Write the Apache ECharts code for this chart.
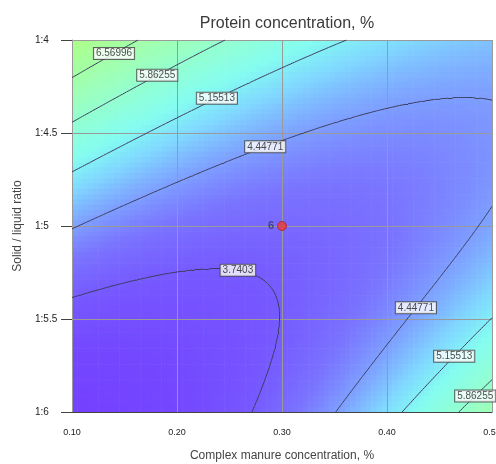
<!DOCTYPE html>
<html>
<head>
<meta charset="utf-8">
<script src="https://cdn.jsdelivr.net/npm/echarts@6/dist/echarts.min.js"></script>
<style>
html, body { margin: 0; padding: 0; background: #fff; }
#chart { width: 496px; height: 464px; }
</style>
</head>
<body>
<div id="chart"></div>
<script>
// response surface (coded factors: u=(x-0.3)/0.2, v=ratio-5)
// terms: 1, u, v, uv, u^2, v^2, uv^2, u^2v
var surfaceCoefs = [3.93, 0.02, -0.76, 1.47, 0.57, 0.80, 0.21, 0.08];
var contourLevels = ['3.7403', '4.44771', '5.15513', '5.86255', '6.56996'];
// where each contour label sits: [x, ratio, level]
var contourLabels = [
    [0.138, 4.06, '6.56996'],
    [0.180, 4.18, '5.86255'],
    [0.237, 4.30, '5.15513'],
    [0.282, 4.56, '4.44771'],
    [0.258, 5.22, '3.7403'],
    [0.418, 5.41, '4.44771'],
    [0.455, 5.66, '5.15513'],
    [0.475, 5.87, '5.86255']
];
var xTicks = ['0.10', '0.20', '0.30', '0.40', '0.50'];
var yTicks = ['1:4', '1:4.5', '1:5', '1:5.5', '1:6'];
var designPoints = [[0.30, 5, '6']];

var xMin = 0.1, xMax = 0.5, rMin = 4, rMax = 6;

function surf(x, r) {
    var u = (x - 0.3) / 0.2, v = r - 5;
    var t = [1, u, v, u * v, u * u, v * v, u * v * v, u * u * v];
    var s = 0;
    for (var k = 0; k < t.length; k++) s += surfaceCoefs[k] * t[k];
    return s;
}

// colour cells
var cells = [];
var nx = 80, ny = 70;
for (var i = 0; i < nx; i++) {
    for (var j = 0; j < ny; j++) {
        var x0 = xMin + (xMax - xMin) * i / nx, x1 = xMin + (xMax - xMin) * (i + 1) / nx;
        var r0 = rMin + (rMax - rMin) * j / ny, r1 = rMin + (rMax - rMin) * (j + 1) / ny;
        cells.push([x0, r0, x1, r1, surf((x0 + x1) / 2, (r0 + r1) / 2)]);
    }
}

// contour lines, marching squares
var N = 200;
var grid = [];
for (var i = 0; i <= N; i++) {
    grid.push([]);
    for (var j = 0; j <= N; j++) {
        grid[i].push(surf(xMin + (xMax - xMin) * i / N, rMin + (rMax - rMin) * j / N));
    }
}
function px(i) { return xMin + (xMax - xMin) * i / N; }
function pr(j) { return rMin + (rMax - rMin) * j / N; }

var segs = [];
var segPts = {};
contourLevels.forEach(function (lvTxt) {
    var L = parseFloat(lvTxt);
    segPts[lvTxt] = [];
    for (var i = 0; i < N; i++) {
        for (var j = 0; j < N; j++) {
            var c = [[i, j], [i + 1, j], [i + 1, j + 1], [i, j + 1]];
            var pts = [];
            for (var e = 0; e < 4; e++) {
                var a = c[e], b = c[(e + 1) % 4];
                var za = grid[a[0]][a[1]], zb = grid[b[0]][b[1]];
                if ((za - L) * (zb - L) < 0) {
                    var t = (L - za) / (zb - za);
                    pts.push([px(a[0] + (b[0] - a[0]) * t), pr(a[1] + (b[1] - a[1]) * t)]);
                }
            }
            for (var k = 0; k + 1 < pts.length; k += 2) {
                segs.push({coords: [pts[k], pts[k + 1]]});
                segPts[lvTxt].push(pts[k]);
            }
        }
    }
});

// snap labels onto their lines
var labelData = contourLabels.map(function (h) {
    var best = null, bd = 1e9;
    segPts[h[2]].forEach(function (p) {
        var d = Math.pow((p[0] - h[0]) / 0.4, 2) + Math.pow((p[1] - h[1]) / 2, 2);
        if (d < bd) { bd = d; best = p; }
    });
    return {value: [best[0], best[1]], name: h[2]};
});

var myChart = echarts.init(document.getElementById('chart'));

myChart.setOption({
    animation: false,
    title: {
        text: 'Protein concentration, %',
        left: 282,
        top: 11,
        textAlign: 'center',
        textStyle: {fontSize: 16, fontWeight: 'normal', color: '#3a3a3a', fontFamily: 'Liberation Sans'}
    },
    grid: {left: 72, right: 4, top: 40, bottom: 52, outerBoundsMode: 'none', containLabel: false},
    visualMap: {
        show: false,
        type: 'continuous',
        seriesIndex: 0,
        dimension: 4,
        min: 2.9,
        max: 7.3,
        inRange: {color: ['#7440ff', '#7448ff', '#7658ff', '#7a74ff', '#7ea4ff', '#80d8ff',
                          '#84fcf0', '#90ffd8', '#9affc0', '#a2ffaa', '#a8ff96', '#b0ff84']}
    },
    xAxis: {
        type: 'value',
        z: 2,
        min: xMin,
        max: xMax,
        interval: 0.1,
        name: 'Complex manure concentration, %',
        nameLocation: 'middle',
        nameGap: 38,
        nameTextStyle: {fontSize: 12, color: '#444', fontFamily: 'Liberation Sans'},
        axisLine: {show: true, lineStyle: {color: '#444'}},
        axisTick: {show: false},
        axisLabel: {
            fontSize: 9, color: '#222', margin: 16, fontFamily: 'Liberation Sans',
            formatter: function (v) { return xTicks[Math.round((v - xMin) / 0.1)]; }
        },
        splitLine: {show: true, lineStyle: {color: '#9a9a9a', width: 1}}
    },
    yAxis: {
        type: 'value',
        z: 2,
        inverse: true,
        min: rMin,
        max: rMax,
        interval: 0.5,
        name: 'Solid / liquid ratio',
        nameLocation: 'middle',
        nameGap: 46,
        nameTextStyle: {fontSize: 12, color: '#444', fontFamily: 'Liberation Sans'},
        axisLine: {show: true, lineStyle: {color: '#9a9a9a'}},
        axisTick: {show: true, length: 11, lineStyle: {color: '#444'}},
        axisLabel: {
            fontSize: 10, color: '#222', margin: 37, align: 'left', fontFamily: 'Liberation Sans',
            formatter: function (v) { return yTicks[Math.round((v - rMin) / 0.5)]; }
        },
        splitLine: {show: true, lineStyle: {color: '#9a9a9a', width: 1}}
    },
    series: [
        {
            type: 'custom',
            silent: true,
            z: 1,
            encode: {x: [0, 2], y: [1, 3]},
            renderItem: function (params, api) {
                var p0 = api.coord([api.value(0), api.value(1)]);
                var p1 = api.coord([api.value(2), api.value(3)]);
                return {
                    type: 'rect',
                    shape: {
                        x: Math.min(p0[0], p1[0]),
                        y: Math.min(p0[1], p1[1]),
                        width: Math.abs(p1[0] - p0[0]) + 0.6,
                        height: Math.abs(p1[1] - p0[1]) + 0.6
                    },
                    style: {fill: api.visual('color')}
                };
            },
            data: cells
        },
        {
            type: 'lines',
            coordinateSystem: 'cartesian2d',
            silent: true,
            z: 3,
            lineStyle: {color: '#3c3c5c', width: 1, opacity: 1},
            data: segs
        },
        {
            type: 'scatter',
            silent: true,
            z: 5,
            symbolSize: 0,
            label: {
                show: true,
                position: 'inside',
                formatter: function (p) { return p.name; },
                fontSize: 10,
                color: '#222',
                fontFamily: 'Liberation Sans',
                backgroundColor: '#fff',
                borderColor: '#444',
                borderWidth: 1,
                padding: [1, 2, 0, 2]
            },
            data: labelData
        },
        {
            type: 'scatter',
            silent: true,
            z: 6,
            symbolSize: 9,
            itemStyle: {color: '#ee3a3a', borderColor: '#b02020', borderWidth: 1},
            label: {
                show: true,
                position: 'left',
                distance: 3,
                formatter: function (p) { return p.data[2]; },
                fontSize: 11,
                fontWeight: 'bold',
                color: '#3a3a5a',
                fontFamily: 'Liberation Sans'
            },
            data: designPoints
        }
    ]
});
</script>
</body>
</html>
